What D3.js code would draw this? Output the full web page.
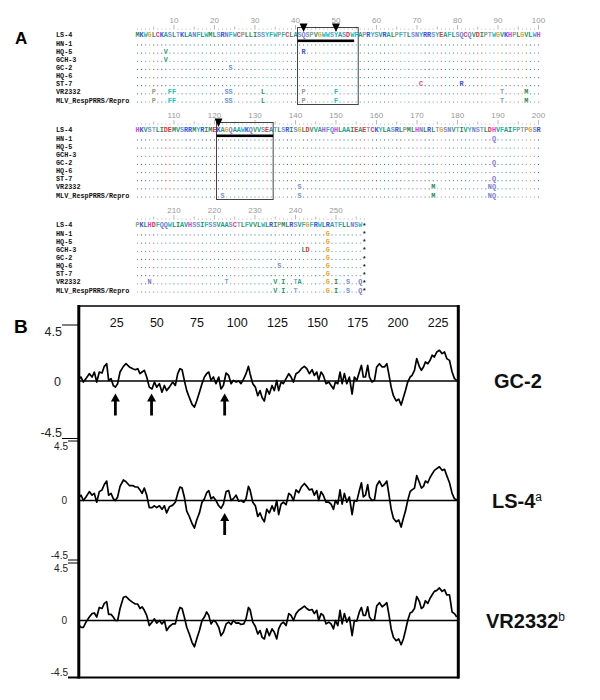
<!DOCTYPE html>
<html>
<head>
<meta charset="utf-8">
<script src="https://cdn.jsdelivr.net/npm/d3@7"></script>
<style>
  body { margin: 0; background: #fff; }
  text { font-family: "Liberation Sans", Arial, sans-serif; }
  .mono { font-family: "Liberation Mono", "DejaVu Sans Mono", monospace; font-weight: bold; }
</style>
</head>
<body>
<div id="fig"></div>
<script>
// ---------- A: alignment data ----------
var strains = ["LS-4", "HN-1", "HQ-5", "GCH-3", "GC-2", "HQ-6", "ST-7", "VR2332", "MLV_RespPRRS/Repro"];
var ls4Seq = "MKWGLCKASLTKLANFLWMLSRNFWCPLLISSYFWPFCLASQSPVGWWSYASDWFAPRYSVRALPFTLSNYRRSYEAFLSQCQVDIPTWGVKHPLGVLWH" +
             "HKVSTLIDEMVSRRMYRIMEKAGQAAWKQVVSEATLSRISGLDVVAHFQHLAAIEAETCKYLASRLPMLHNLRLTGSNVTIVYNSTLDHVFAIFPTPGSR" +
             "PKLHDFQQWLIAVHSSIFSSVAASCTLFVVLWLRIPMLRSVFGFRWLRATFLLNSW";
// [strain, residue, amino acid] differences from LS-4
var variants = [
  ["HQ-5", 8, "V"], ["GCH-3", 8, "V"], ["HQ-5", 42, "R"], ["GC-2", 24, "S"],
  ["ST-7", 71, "C"], ["ST-7", 81, "R"],
  ["VR2332", 5, "P"], ["VR2332", 9, "F"], ["VR2332", 10, "F"], ["VR2332", 23, "S"], ["VR2332", 24, "S"],
  ["VR2332", 32, "L"], ["VR2332", 42, "P"], ["VR2332", 50, "F"], ["VR2332", 91, "T"], ["VR2332", 97, "M"],
  ["MLV_RespPRRS/Repro", 5, "P"], ["MLV_RespPRRS/Repro", 9, "F"], ["MLV_RespPRRS/Repro", 10, "F"],
  ["MLV_RespPRRS/Repro", 23, "S"], ["MLV_RespPRRS/Repro", 24, "S"], ["MLV_RespPRRS/Repro", 32, "L"],
  ["MLV_RespPRRS/Repro", 42, "P"], ["MLV_RespPRRS/Repro", 50, "F"], ["MLV_RespPRRS/Repro", 91, "T"],
  ["MLV_RespPRRS/Repro", 97, "M"],
  ["MLV_RespPRRS/Repro", 122, "S"], ["VR2332", 141, "S"], ["MLV_RespPRRS/Repro", 141, "S"],
  ["VR2332", 174, "M"], ["MLV_RespPRRS/Repro", 174, "M"],
  ["HN-1", 189, "Q"], ["GC-2", 189, "Q"], ["ST-7", 189, "Q"],
  ["VR2332", 188, "N"], ["VR2332", 189, "Q"], ["MLV_RespPRRS/Repro", 188, "N"], ["MLV_RespPRRS/Repro", 189, "Q"],
  ["VR2332", 204, "N"], ["VR2332", 223, "T"], ["HQ-6", 236, "S"], ["GCH-3", 242, "L"], ["GCH-3", 243, "D"],
  ["VR2332", 235, "V"], ["VR2332", 237, "I"], ["VR2332", 240, "T"], ["VR2332", 241, "A"],
  ["MLV_RespPRRS/Repro", 235, "V"], ["MLV_RespPRRS/Repro", 237, "I"], ["MLV_RespPRRS/Repro", 240, "T"],
  ["HN-1", 248, "G"], ["HQ-5", 248, "G"], ["GCH-3", 248, "G"], ["GC-2", 248, "G"], ["HQ-6", 248, "G"],
  ["ST-7", 248, "G"], ["VR2332", 248, "G"], ["MLV_RespPRRS/Repro", 248, "G"],
  ["VR2332", 250, "I"], ["VR2332", 253, "S"], ["VR2332", 256, "Q"],
  ["MLV_RespPRRS/Repro", 250, "I"], ["MLV_RespPRRS/Repro", 253, "S"], ["MLV_RespPRRS/Repro", 256, "Q"]
];
var rulerLabels = [10, 20, 30, 40, 50, 60, 70, 80, 90, 100, 110, 120, 130, 140, 150, 160, 170, 180, 190, 200, 210, 220, 230, 240, 250];
// boxed epitope regions: first/last residue, underlined span, arrow residues
var boxRegions = [
  { from: 41, to: 55, barFrom: 41, barTo: 54, marks: [42, 50] },
  { from: 121, to: 134, barFrom: 121, barTo: 134, marks: [121] }
];

// ---------- B: hydrophilicity profile data ----------
var hydroPos = [
  2.1, 3.1, 4.6, 6.2, 8.3, 10.0, 11.4, 12.9, 14.5, 16.2,
  17.6, 19.1, 20.3, 21.8, 23.2, 24.5, 25.9, 27.4, 29.5, 31.1,
  33.2, 35.3, 36.9, 38.4, 39.8, 41.1, 42.5, 44.0, 45.6, 47.3,
  48.8, 50.2, 51.9, 53.5, 55.0, 56.4, 58.1, 60.2, 61.8, 63.3,
  64.7, 66.0, 67.4, 68.9, 70.5, 72.2, 73.7, 75.1, 76.8, 78.4,
  79.9, 81.3, 82.6, 84.0, 85.5, 87.1, 88.8, 90.2, 91.7, 93.4,
  95.0, 96.5, 97.9, 99.6, 101.2, 102.7, 104.4, 105.8, 107.3, 108.3,
  110.0, 111.6, 113.1, 114.5, 115.8, 117.2, 118.7, 120.3, 122.0, 123.4,
  124.9, 126.1, 127.6, 129.0, 130.7, 132.4, 133.8, 135.3, 136.9, 138.6,
  140.2, 142.1, 143.6, 145.2, 146.9, 148.3, 149.8, 151.0, 152.5, 153.9,
  155.6, 157.3, 158.7, 160.2, 161.4, 162.9, 164.3, 165.6, 167.0, 168.5,
  170.1, 171.8, 173.2, 174.7, 176.3, 177.6, 178.8, 180.1, 181.5, 182.6,
  184.2, 185.7, 187.1, 188.8, 190.5, 191.9, 193.4, 194.6, 196.1, 197.5,
  199.2, 200.8, 202.3, 203.7, 205.0, 206.4, 207.9, 209.1, 210.6, 212.0,
  213.7, 214.9, 216.2, 217.4, 218.9, 220.3, 221.6, 223.0, 224.5, 226.1,
  227.8, 229.3, 230.7, 232.4, 234.0, 235.5, 236.9
];
var gc2Vals = [
  0.19, 0.32, -0.08, 0.19, 0.59, 0.32, 0.72, -0.08, 0.72, 0.64,
  1.18, 1.39, 0.05, 0.19, -0.35, -0.48, -0.21, 0.72, 1.18, 1.39,
  1.13, 0.99, 0.91, 0.99, 0.59, 0.72, 0.86, 0.32, -0.48, -0.62,
  -0.08, -0.48, -0.21, -0.88, -0.35, -0.75, -0.48, -0.08, -0.35, 0.59,
  0.99, 0.91, 0.05, -0.75, -1.29, -1.83, -2.04, -1.56, -0.88, -0.21,
  0.32, 0.59, 0.72, 0.05, 0.32, -0.21, 0.32, -0.62, -0.35, 0.64,
  0.45, -0.21, 0.05, -0.08, 0.0, -0.21, 0.19, 0.59, 1.18, 0.59,
  -0.21, -0.48, -1.15, -0.75, -1.29, -1.56, -0.62, -1.02, -0.35, -0.75,
  0.05, -0.75, -0.08, -0.21, 0.19, 0.59, 0.32, -0.08, 0.59, 0.72,
  0.99, 1.18, 0.99, 0.59, 0.91, 0.45, 0.72, 0.05, 0.72, 0.45,
  -0.21, -0.08, -0.35, -0.62, -0.08, -0.21, 0.72, -0.21, 0.59, -0.21,
  0.32, -1.02, 0.32, 0.05, 0.72, 1.26, 0.32, 0.32, 1.26, 0.32,
  -0.08, 0.05, 1.13, 1.39, 1.13, 1.13, 1.39, 0.59, -0.48, -1.15,
  -1.56, -1.42, -1.88, -1.29, -0.75, -0.08, 0.32, 0.45, 0.86, 1.80,
  1.13, 0.86, 1.13, 1.53, 1.39, 1.66, 2.07, 1.93, 2.33, 2.47,
  2.20, 2.33, 1.80, 1.66, 0.72, 0.19, 0.05
];
var ls4Vals = [
  0.27, 0.40, 0.0, 0.27, 0.67, 0.40, 0.54, -0.13, 0.67, 0.80,
  1.21, 1.47, 0.40, 0.54, 0.13, 0.0, 0.27, 1.07, 1.55, 1.42,
  1.13, 1.13, 1.02, 1.02, 0.80, 0.54, 0.94, 0.40, -0.54, -0.54,
  -0.40, -0.54, -0.40, -0.67, -0.40, -0.94, -0.48, -0.35, -0.13, 0.54,
  1.02, 0.94, 0.27, -0.80, -1.21, -1.74, -2.09, -1.47, -0.94, -0.13,
  0.13, 0.59, 0.75, 0.13, 0.27, 0.0, -0.40, -0.59, -0.27, 0.67,
  0.75, 0.0, 0.13, 0.40, -0.05, 0.0, -0.13, 0.13, 1.07, 0.80,
  -0.13, -0.40, -1.21, -0.94, -1.34, -1.61, -0.67, -0.94, -0.40, -0.80,
  0.0, -1.07, -0.27, -0.13, -0.32, 0.54, 0.40, 0.0, 0.80, 0.59,
  1.02, 1.29, 1.07, 0.80, 0.86, 0.40, 0.75, 0.0, 0.67, 0.40,
  -0.13, -0.13, -0.27, -0.67, 0.0, -0.27, 0.80, -0.27, 0.54, -0.13,
  0.27, -1.07, 0.0, -0.05, 0.75, 1.34, 0.27, 0.40, 1.21, 0.27,
  0.0, 0.05, 1.13, 1.47, 1.07, 1.21, 1.47, 0.54, -0.67, -1.34,
  -1.61, -1.47, -2.01, -1.34, -0.80, 0.0, 0.67, 0.80, 0.94, 1.88,
  1.34, 0.94, 1.07, 1.47, 1.34, 1.74, 2.01, 2.28, 2.41, 2.55,
  2.28, 2.36, 1.88, 1.34, 0.54, 0.13, 0.05
];
var vr2332Vals = [
  -0.40, -0.54, -0.54, -0.13, 0.27, 0.54, 0.59, 0.27, 1.02, 0.94,
  1.34, 1.47, 0.48, 0.48, 0.27, 0.0, 0.0, 0.94, 1.82, 1.88,
  1.61, 1.42, 1.29, 1.29, 0.94, 1.07, 0.80, 0.40, -0.40, -0.13,
  0.13, -0.21, 0.0, -0.27, 0.0, -0.80, -0.48, -0.27, -0.27, 0.54,
  1.02, 0.94, 0.27, -0.54, -1.07, -1.74, -2.09, -1.47, -0.80, 0.0,
  0.27, 0.67, 0.40, -0.27, 0.0, -0.13, -0.54, -1.21, -0.94, -0.27,
  -0.13, -0.32, 0.0, -0.21, -0.19, -0.32, -0.27, 0.13, 1.02, 0.86,
  -0.13, -0.48, -1.07, -0.80, -1.34, -1.47, -0.67, -1.21, -0.67, -0.94,
  -1.47, -0.67, -0.27, -0.13, -0.40, 0.54, 0.40, 0.0, 0.54, 0.80,
  0.94, 1.13, 0.94, 0.80, 0.86, 0.54, 0.80, 0.0, 0.54, 0.40,
  -0.27, -0.13, -0.27, -0.67, 0.0, -0.40, 0.80, -0.27, 0.54, -0.13,
  0.27, -1.21, 0.0, -0.05, 0.67, 1.02, 0.40, 0.40, 1.07, 0.27,
  0.0, 0.05, 1.13, 1.39, 1.07, 1.21, 1.39, 0.54, -0.67, -1.34,
  -1.61, -1.47, -1.93, -1.47, -0.80, 0.0, 0.59, 0.67, 0.94, 1.88,
  1.47, 0.94, 1.07, 1.55, 1.34, 1.74, 2.01, 2.28, 2.36, 2.55,
  2.28, 2.41, 2.01, 2.01, 0.67, 0.54, 0.27
];
var xTicks = [25, 50, 75, 100, 125, 150, 175, 200, 225];
var gc2Arrows = [24.5, 47, 92.5];
var ls4Arrows = [92.5];

// ---------- colours ----------
var aaColor = {
  A: "#1e9e8c", V: "#22a06b", L: "#2e8b57", I: "#2e8b57", M: "#2e8b57",
  F: "#1cbcc0", W: "#1cbcc0", Y: "#1cbcc0", C: "#e0406a",
  K: "#3550ee", R: "#3550ee", H: "#d840d8", D: "#ec3030", E: "#ec3030",
  N: "#7a7ad0", Q: "#7a7ad0", S: "#6f8fd0", T: "#7f9fcf", G: "#f0a020", P: "#9a9a80"
};

var svg = d3.select("#fig").append("svg")
  .attr("width", 600).attr("height", 700)
  .style("background", "#fff");

// ================= Panel A =================
svg.append("text").attr("x", 15).attr("y", 44)
  .style("font-size", "17px").style("font-weight", "bold").text("A");

var colX = d3.scaleLinear().domain([1, 100]).range([137.5, 538.5]);
var blockTop = [20, 115, 210];
var rowGap = 8.15;
var varMap = {};
variants.forEach(function (v) { varMap[v[0] + ":" + v[1]] = v[2]; });

blockTop.forEach(function (top, b) {
  var g = svg.append("g");
  var first = b * 100 + 1, last = Math.min(b * 100 + 100, ls4Seq.length);
  var posList = d3.range(first, last + 1);
  var rulerEnd = b === 2 ? last + 1 : last;

  // ruler
  rulerLabels.filter(function (n) { return n >= first && n <= last; }).forEach(function (n) {
    g.append("text").attr("x", colX(n - b * 100)).attr("y", top + 3)
      .attr("text-anchor", "middle").style("font-size", "8px").style("fill", "#999").text(n);
  });
  d3.range(first, rulerEnd + 1).forEach(function (p) {
    var x = colX(p - b * 100);
    if (p % 10 === 0) {
      g.append("line").attr("x1", x).attr("x2", x).attr("y1", top + 5).attr("y2", top + 9.5)
        .attr("stroke", "#999").attr("stroke-width", 0.7);
    } else if (p % 5 === 0) {
      g.append("line").attr("x1", x).attr("x2", x).attr("y1", top + 6.5).attr("y2", top + 9.5)
        .attr("stroke", "#999").attr("stroke-width", 0.7);
    } else {
      g.append("circle").attr("cx", x).attr("cy", top + 9).attr("r", 0.5).attr("fill", "#999");
    }
  });

  // rows
  strains.forEach(function (s, r) {
    var y = top + 15 + r * rowGap;
    g.append("text").attr("class", "mono").attr("x", 56).attr("y", y + 2.4)
      .style("font-size", "6.8px").style("fill", "#111").text(s);
    posList.forEach(function (p) {
      var x = colX(p - b * 100);
      var ref = ls4Seq[p - 1];
      var aa = r === 0 ? ref : varMap[s + ":" + p];
      if (aa) {
        g.append("text").attr("class", "mono").attr("x", x).attr("y", y + 2.4)
          .attr("text-anchor", "middle").style("font-size", "6.8px")
          .style("fill", aaColor[aa] || "#333").text(aa);
      } else {
        g.append("circle").attr("cx", x).attr("cy", y + 1.8).attr("r", 0.6)
          .attr("fill", aaColor[ref] || "#888");
      }
    });
    if (b === 2) {
      g.append("text").attr("class", "mono").attr("x", colX(last + 1 - b * 100)).attr("y", y + 3)
        .attr("text-anchor", "middle").style("font-size", "6.8px").style("fill", "#111").text("*");
    }
  });

  // boxes, bars and arrowheads
  boxRegions.filter(function (bx) { return bx.from >= first && bx.from <= last; }).forEach(function (bx) {
    var x0 = colX(bx.from - b * 100) - 2, x1 = colX(bx.to - b * 100) + 2;
    g.append("rect").attr("x", x0).attr("y", top + 7.5).attr("width", x1 - x0).attr("height", 77)
      .attr("fill", "none").attr("stroke", "#444").attr("stroke-width", 1);
    g.append("rect").attr("x", colX(bx.barFrom - b * 100) - 2).attr("y", top + 19.5)
      .attr("width", colX(bx.barTo - b * 100) - colX(bx.barFrom - b * 100) + 4).attr("height", 2.6)
      .attr("fill", "#000");
    bx.marks.forEach(function (m) {
      var mx = colX(m - b * 100);
      g.append("path").attr("d", "M" + (mx - 4) + "," + (top + 3.5) + "L" + (mx + 4) + "," + (top + 3.5) +
        "L" + mx + "," + (top + 12) + "Z").attr("fill", "#000");
    });
  });
});

// ================= Panel B =================
svg.append("text").attr("x", 14).attr("y", 333)
  .style("font-size", "19px").style("font-weight", "bold").text("B");

var px = d3.scaleLinear().domain([0, 237]).range([76, 456.9]);

// frame
var frame = svg.append("g").attr("stroke", "#000");
frame.append("line").attr("x1", 78).attr("x2", 459).attr("y1", 306).attr("y2", 306).attr("stroke-width", 1.6);
frame.append("line").attr("x1", 68).attr("x2", 459).attr("y1", 677.5).attr("y2", 677.5).attr("stroke-width", 2.2);
frame.append("line").attr("x1", 78.8).attr("x2", 78.8).attr("y1", 305).attr("y2", 678.5).attr("stroke-width", 3);
frame.append("line").attr("x1", 458.3).attr("x2", 458.3).attr("y1", 305).attr("y2", 678.5).attr("stroke-width", 3);

svg.append("g").attr("transform", "translate(0,327)")
  .call(d3.axisTop(px).tickValues(xTicks).tickSize(0).tickPadding(0))
  .call(function (g) { g.select(".domain").remove(); })
  .selectAll("text").style("font-size", "12.5px").style("font-family", "Liberation Sans, Arial, sans-serif").attr("fill", "#111");

var panels = [
  { name: "GC-2", sup: "", vals: gc2Vals, y: [438.5, 381, 325], arrows: gc2Arrows, labX: 494,
    fs: 12.5, labRight: 62, tickL: 62 },
  { name: "LS-4", sup: "a", vals: ls4Vals, y: [560, 500.5, 441], arrows: ls4Arrows, labX: 492,
    fs: 10, labRight: 68, tickL: 68 },
  { name: "VR2332", sup: "b", vals: vr2332Vals, y: [677, 620.5, 563], arrows: [], labX: 486,
    fs: 10, labRight: 68, tickL: 68 }
];

panels.forEach(function (pn, i) {
  var py = d3.scaleLinear().domain([-4.5, 0, 4.5]).range(pn.y);
  var g = svg.append("g");
  // zero line
  g.append("line").attr("x1", 79).attr("x2", 458).attr("y1", py(0)).attr("y2", py(0))
    .attr("stroke", "#000").attr("stroke-width", 1.5);
  // y ticks
  g.append("line").attr("x1", pn.tickL).attr("x2", 78).attr("y1", py(4.5)).attr("y2", py(4.5))
    .attr("stroke", "#000").attr("stroke-width", 1);
  if (i < 2) {
    g.append("line").attr("x1", pn.tickL).attr("x2", 78).attr("y1", py(-4.5)).attr("y2", py(-4.5))
      .attr("stroke", "#000").attr("stroke-width", 1);
  }
  g.append("text").attr("x", pn.labRight).attr("y", py(4.5) + pn.fs * 0.9)
    .attr("text-anchor", "end").style("font-size", pn.fs + "px").style("fill", "#222").text("4.5");
  g.append("text").attr("x", pn.labRight - 1).attr("y", py(0) + pn.fs * 0.36)
    .attr("text-anchor", "end").style("font-size", pn.fs + "px").style("fill", "#222").text("0");
  g.append("text").attr("x", pn.labRight).attr("y", py(-4.5) - 1.5)
    .attr("text-anchor", "end").style("font-size", pn.fs + "px").style("fill", "#222").text("-4.5");

  // profile
  var pts = hydroPos.map(function (d, k) { return [d, pn.vals[k]]; });
  g.append("path").datum(pts)
    .attr("d", d3.line().x(function (d) { return px(d[0]); }).y(function (d) { return py(d[1]); }))
    .attr("fill", "none").attr("stroke", "#000").attr("stroke-width", 1.7).attr("stroke-linejoin", "round");

  // arrows
  pn.arrows.forEach(function (a) {
    var ax = px(a), ay = py(0) + 12.5;
    g.append("path").attr("d", "M" + (ax - 4.5) + "," + (ay + 8) + "L" + ax + "," + ay + "L" + (ax + 4.5) + "," + (ay + 8) + "Z")
      .attr("fill", "#000");
    g.append("rect").attr("x", ax - 1.4).attr("y", ay + 7).attr("width", 2.8).attr("height", 15).attr("fill", "#000");
  });

  // strain label
  var t = g.append("text").attr("x", pn.labX).attr("y", py(0) + 7)
    .style("font-size", "20px").style("font-weight", "bold").style("fill", "#111").text(pn.name);
  if (pn.sup) {
    t.append("tspan").attr("dy", -7).style("font-size", "12px").style("font-weight", "normal").text(pn.sup);
  }
});
</script>
</body>
</html>
